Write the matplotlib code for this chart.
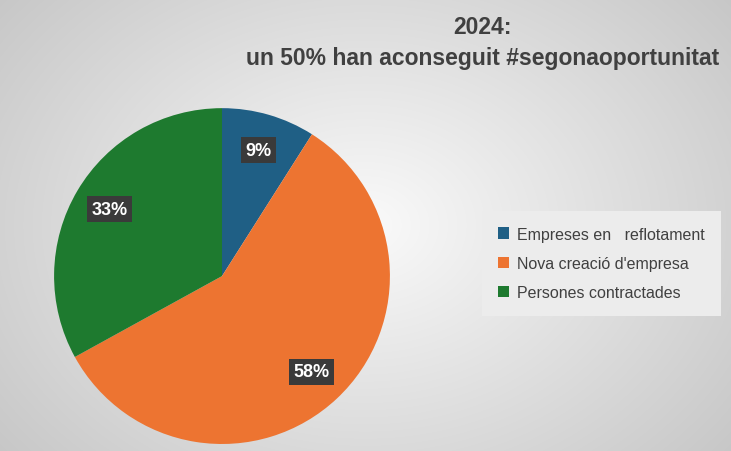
import numpy as np
import matplotlib
matplotlib.use("Agg")
import matplotlib.pyplot as plt
from matplotlib.patches import Patch

categories = ["Empreses en   reflotament", "Nova creació d'empresa", "Persones contractades"]
values = [9, 58, 33]
colors = ["#1F5F85", "#ED7431", "#1E7A2F"]
title = "2024:\nun 50% han aconseguit #segonaoportunitat"

plt.rcParams['font.family'] = ['Liberation Sans', 'DejaVu Sans']
fig = plt.figure(figsize=(7.31, 4.52), dpi=100)

# radial gradient background
bg = fig.add_axes([0, 0, 1, 1])
yy, xx = np.mgrid[0:452, 0:731]
d = np.sqrt(((xx - 365) / 520) ** 2 + ((yy - 226) / 400) ** 2)
g = 0.98 - 0.22 * np.clip(d, 0, 1.2)
bg.imshow(np.dstack([g, g, g]), aspect='auto', extent=[0, 1, 0, 1])
bg.axis('off')

ax = fig.add_axes([0.0739, 0.0155, 0.4596, 0.743])
wedges, texts, autotexts = ax.pie(values, colors=colors, startangle=90, counterclock=False,
                                  autopct='%1.0f%%', pctdistance=0.78,
                                  wedgeprops=dict(linewidth=0))
for t in autotexts:
    t.set_color('white')
    t.set_fontweight('bold')
    t.set_fontsize(13)
    t.set_bbox(dict(boxstyle='square,pad=0.25', facecolor='#3a3a3a', edgecolor='none'))
ax.set_xlim(-1, 1)
ax.set_ylim(-1, 1)
ax.set_aspect('equal')

fig.text(0.66, 0.965, title, ha='center', va='top', fontsize=16.5, fontweight='bold',
         color='#404040', linespacing=1.45)

handles = [Patch(facecolor=c, label=l) for c, l in zip(colors, categories)]
leg = fig.legend(handles=handles, loc='center left', bbox_to_anchor=(0.655, 0.415),
                 frameon=True, fontsize=11.5, handlelength=0.7, handleheight=0.7,
                 labelspacing=0.9, borderpad=0.7, handletextpad=0.5)
leg.get_frame().set_facecolor('#ECECEC')
leg.get_frame().set_edgecolor('none')
leg.get_frame().set_boxstyle('square')
leg.get_frame().set_alpha(1)
for t in leg.get_texts():
    t.set_color('#404040')

fig.savefig("out.png", dpi=100)
